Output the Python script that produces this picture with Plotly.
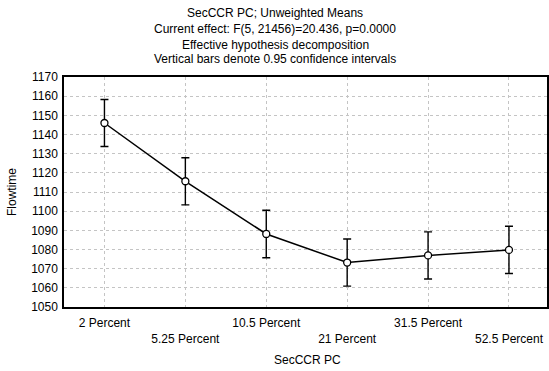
import plotly.graph_objects as go

categories = ["2 Percent", "5.25 Percent", "10.5 Percent", "21 Percent", "31.5 Percent", "52.5 Percent"]
means = [1146.0, 1115.6, 1088.1, 1073.2, 1076.9, 1079.8]
ci_half = [12.3, 12.3, 12.4, 12.3, 12.3, 12.3]
y_ticks = list(range(1050, 1171, 10))
title_lines = [
    "SecCCR PC; Unweighted Means",
    "Current effect: F(5, 21456)=20.436, p=0.0000",
    "Effective hypothesis decomposition",
    "Vertical bars denote 0.95 confidence intervals",
]

x_idx = list(range(len(categories)))
tick_text = [c if i % 2 == 0 else "<br>" + c for i, c in enumerate(categories)]

FONT = "Liberation Sans, Arial, sans-serif"
TOP, BOT = 77, 307
PH = BOT - TOP

fig = go.Figure()
fig.add_trace(go.Scatter(
    x=x_idx, y=means,
    mode="lines+markers",
    line=dict(color="black", width=1.5),
    marker=dict(symbol="circle", size=7, color="white", line=dict(color="black", width=1.3)),
    error_y=dict(type="data", array=ci_half, visible=True, color="black", thickness=1.4, width=4),
    showlegend=False,
))

title_y = [13, 29.5, 44.5, 59.5]
for txt, py in zip(title_lines, title_y):
    fig.add_annotation(
        text=txt, xref="paper", yref="paper", x=0.437, y=1 + (TOP - py) / PH,
        xanchor="center", yanchor="middle", showarrow=False,
        font=dict(family=FONT, size=12, color="black"),
    )

fig.add_annotation(
    text="SecCCR PC", xref="paper", yref="paper", x=0.505, y=1 + (TOP - 360) / PH,
    xanchor="center", yanchor="middle", showarrow=False,
    font=dict(family=FONT, size=12, color="black"),
)

fig.update_layout(
    width=549, height=371,
    margin=dict(l=64, r=0, t=TOP, b=371 - BOT),
    paper_bgcolor="white", plot_bgcolor="white",
    font=dict(family=FONT, size=12, color="black"),
    xaxis=dict(
        range=[-0.5, 5.47],
        tickmode="array", tickvals=x_idx, ticktext=tick_text,
        showgrid=True, gridcolor="#c4c4c4", griddash="dot", gridwidth=1,
        showline=True, linecolor="black", linewidth=1.5, mirror=True,
        ticks="", zeroline=False, ticklabelstandoff=4,
        tickfont=dict(family=FONT, size=12, color="black"),
    ),
    yaxis=dict(
        range=[1050, 1170],
        tickmode="array", tickvals=y_ticks,
        showgrid=True, gridcolor="#c4c4c4", griddash="dot", gridwidth=1,
        showline=True, linecolor="black", linewidth=1.5, mirror=True,
        ticks="", zeroline=False, ticklabelstandoff=2,
        tickfont=dict(family=FONT, size=12, color="black"),
        title=dict(text="Flowtime", font=dict(family=FONT, size=12, color="black"), standoff=12),
    ),
)

fig.write_html("out.html")
